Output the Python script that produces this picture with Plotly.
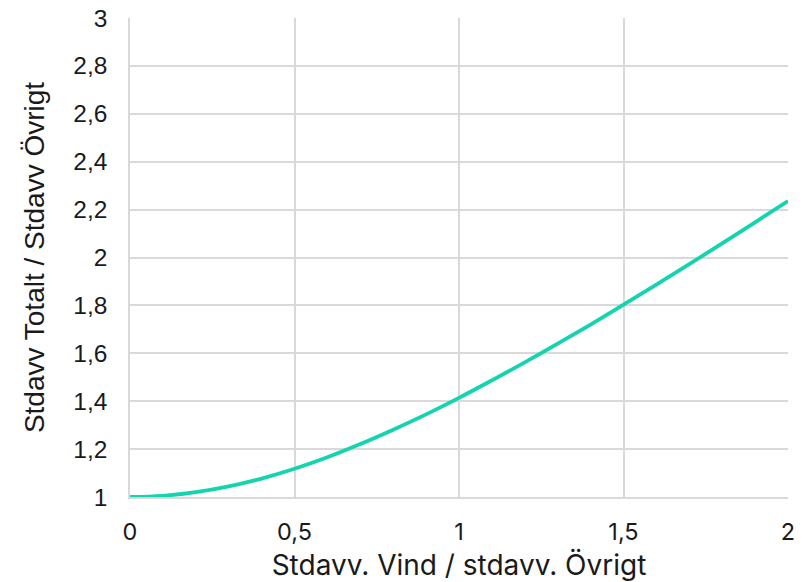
import plotly.graph_objects as go

# Ratio of wind std-dev to other std-dev, and resulting total/other ratio
ratio_vind = [0.0, 0.1, 0.2, 0.3, 0.4, 0.5, 0.6, 0.7, 0.8, 0.9, 1.0,
              1.1, 1.2, 1.3, 1.4, 1.5, 1.6, 1.7, 1.8, 1.9, 2.0]
ratio_totalt = [1.000, 1.005, 1.020, 1.044, 1.077, 1.118, 1.166, 1.221, 1.281, 1.345, 1.414,
                1.487, 1.562, 1.640, 1.720, 1.803, 1.887, 1.972, 2.059, 2.147, 2.236]

x_ticks = [0, 0.5, 1, 1.5, 2]
x_tick_text = ["0", "0,5", "1", "1,5", "2"]
y_ticks = [1, 1.2, 1.4, 1.6, 1.8, 2, 2.2, 2.4, 2.6, 2.8, 3]
y_tick_text = ["1", "1,2", "1,4", "1,6", "1,8", "2", "2,2", "2,4", "2,6", "2,8", "3"]

fig = go.Figure(go.Scatter(
    x=ratio_vind, y=ratio_totalt, mode="lines",
    line=dict(color="#14d4b0", width=3.8, shape="spline"),
    hoverinfo="skip",
))

grid = "#d9d9d9"
ink = "#1a1a1a"
fig.update_layout(
    width=810, height=582,
    margin=dict(l=130, r=22, t=18, b=85),
    paper_bgcolor="white", plot_bgcolor="white",
    showlegend=False,
    xaxis=dict(
        range=[0, 2], tickvals=x_ticks, ticktext=x_tick_text, automargin=False,
        showgrid=True, gridcolor=grid, gridwidth=1.5,
        zeroline=False, showline=True, linecolor=grid, linewidth=1.5,
        ticks="outside", ticklen=13, tickcolor="white",
        tickfont=dict(family="Inter", size=23.5, color=ink),
        title=dict(text="Stdavv. Vind / stdavv. Övrigt", standoff=23,
                   font=dict(family="Inter", size=28, color=ink)),
    ),
    yaxis=dict(
        range=[1, 3], tickvals=y_ticks, ticktext=y_tick_text, automargin=False,
        showgrid=True, gridcolor=grid, gridwidth=1.5,
        zeroline=False, showline=True, linecolor=grid, linewidth=1.5,
        ticks="outside", ticklen=16, tickcolor="white",
        tickfont=dict(family="Liberation Sans", size=24.5, color=ink),
        title=dict(text="Stdavv Totalt / Stdavv Övrigt", standoff=20,
                   font=dict(family="Liberation Sans", size=28, color=ink)),
    ),
)

fig.write_html("out.html")
